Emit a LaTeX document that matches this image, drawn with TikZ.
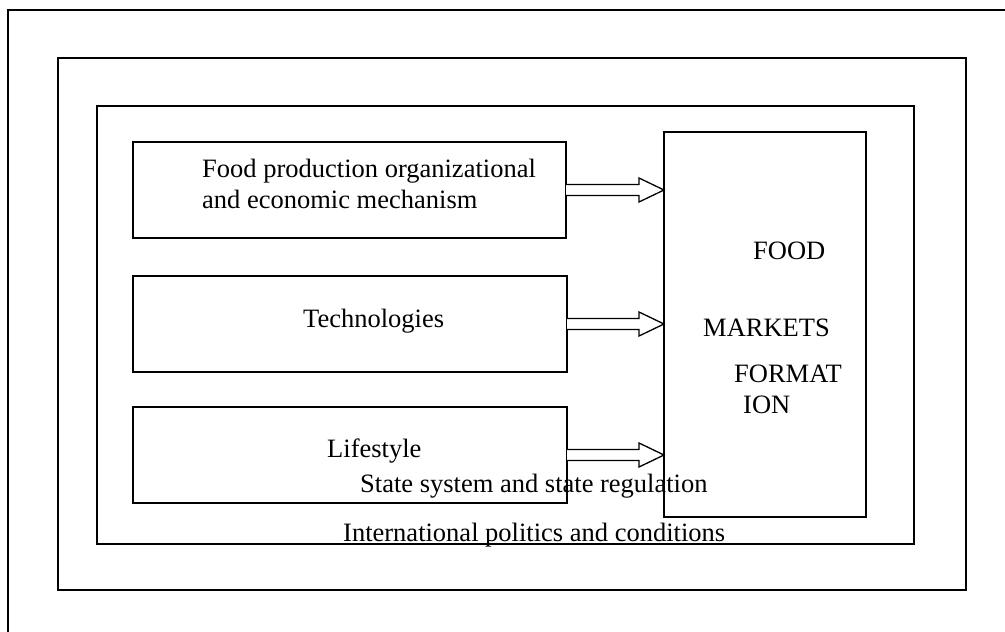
\documentclass[tikz,border=0pt]{standalone}
\usepackage{fontspec}
\setmainfont{Liberation Serif}
\usetikzlibrary{calc}

\tikzset{
  box/.style={draw, line width=1.3pt, inner sep=0pt, outer sep=0pt},
  label/.style={anchor=base west, inner sep=0pt, font=\fontsize{26.5}{31}\selectfont},
  hollow/.style={draw, line width=1.3pt, line join=miter, fill=white}
}

% hollow block arrow from the right side of one box to the left side of another
\newcommand{\blockarrow}[2]{%
  \draw[hollow] ($(#1.east)+(0,-5.5)$) -- ($(#2.west |- #1.east)+(-25,-5.5)$)
    -- ++(0,-6.5) -- (#2.west |- #1.east) -- ++(-25,12) -- ++(0,-6.5)
    -- ($(#1.east)+(0,5.5)$);}

\begin{document}
\begin{tikzpicture}[x=1pt,y=-1pt]
        \clip (0,0) rectangle (1005,632);
        \fill[white] (0,0) rectangle (1005,632);
        % Frames
        \node[box, minimum width=1010, minimum height=640] (world) at (513,330) {};
        \node[box, minimum width=908, minimum height=532] (intl) at (512,324) {};
        \node[box, minimum width=817, minimum height=438] (state) at (505.5,325) {};
        % Nodes
        \node[box, minimum width=433, minimum height=96] (org) at (349.5,190) {};
        \node[box, minimum width=434, minimum height=96] (tech) at (350,324) {};
        \node[box, minimum width=434, minimum height=96] (life) at (350,455) {};
        \node[box, minimum width=202, minimum height=385] (market) at (765,324.5) {};
        % Texts
        \node[label] (orgA) at (202,177) {Food production organizational};
        \node[label] (orgB) at (202,208) {and economic mechanism};
        \node[label] (techT) at (303,327) {Technologies};
        \node[label] (lifeT) at (327,457) {Lifestyle};
        \node[label] (food) at (753,259) {FOOD};
        \node[label] (markets) at (703,336) {MARKETS};
        \node[label] (format) at (734,382) {FORMAT};
        \node[label] (ion) at (743,413) {ION};
        \node[label] (stateT) at (360,492) {State system and state regulation};
        \node[label] (intlT) at (343,541) {International politics and conditions};
        % Arrows
        \blockarrow{org}{market}
        \blockarrow{tech}{market}
        \blockarrow{life}{market}

    \end{tikzpicture}
\end{document}
